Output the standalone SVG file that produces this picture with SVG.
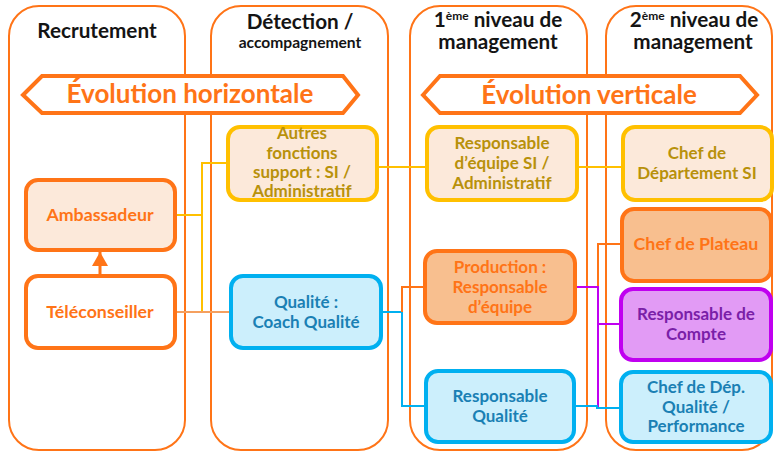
<svg xmlns="http://www.w3.org/2000/svg" width="774" height="452" viewBox="0 0 774 452">
  <style>
    .col { fill: none; stroke: #FF7417; stroke-width: 2; }
    .hdr { font-family: Lato, "Liberation Sans", sans-serif; font-weight: bold; fill: #141414; text-anchor: middle; }
    .banner { fill: #FFFFFF; stroke: #FF7417; stroke-width: 4; stroke-linejoin: miter; }
    .btxt { font-family: Lato, "Liberation Sans", sans-serif; font-weight: bold; font-size: 26px; fill: #FF7417; text-anchor: middle; }
    .box { stroke-width: 4; }
    .t { font-family: Lato, "Liberation Sans", sans-serif; font-weight: bold; font-size: 17.8px; text-anchor: middle; }
    .t2 { font-family: Lato, "Liberation Sans", sans-serif; font-weight: bold; font-size: 17px; text-anchor: middle; }
    .gold { fill: #FCE9DA; stroke: #FFC000; }
    .goldT { fill: #B8910B; }
    .peach { fill: #FCE9DA; stroke: #FF7417; }
    .white { fill: #FFFFFF; stroke: #FF7417; }
    .orange { fill: #F8BF8F; stroke: #FF7417; }
    .orangeT { fill: #FF7417; }
    .blue { fill: #CCEFFC; stroke: #00B0F0; }
    .blueT { fill: #1A80B4; }
    .violet { fill: #E29BF5; stroke: #C000F0; }
    .violetT { fill: #7A1FA8; }
    .ln { fill: none; stroke-width: 2; }
  </style>
  <defs>
    <marker id="arrowhead" markerWidth="16" markerHeight="16" refX="14" refY="8" orient="auto" markerUnits="userSpaceOnUse">
      <path d="M0,0 L14,8 L0,16 Z" fill="#FF7417"/>
    </marker>
  </defs>

  <!-- columns -->
  <g id="columns">
    <rect class="col" x="9" y="6" width="176" height="444" rx="30"/>
    <rect class="col" x="211" y="6" width="177" height="444" rx="30"/>
    <rect class="col" x="410" y="6" width="177" height="444" rx="30"/>
    <rect class="col" x="606" y="6" width="166" height="444" rx="30"/>
  </g>

  <!-- column headings -->
  <g id="headers">
    <text class="hdr" x="97" y="38" font-size="20.7">Recrutement</text>
    <text class="hdr" x="300" y="29" font-size="20.7">Détection /</text>
    <text class="hdr" x="300" y="48" font-size="15.6">accompagnement</text>
    <text class="hdr" x="498" y="27" font-size="20.7">1<tspan font-size="12" dy="-7">ème</tspan><tspan dy="7"> niveau de</tspan></text>
    <text class="hdr" x="498" y="49" font-size="20.7">management</text>
    <text class="hdr" x="694" y="27" font-size="20.7">2<tspan font-size="12" dy="-7">ème</tspan><tspan dy="7"> niveau de</tspan></text>
    <text class="hdr" x="693" y="49" font-size="20.7">management</text>
  </g>

  <!-- evolution banners -->
  <g id="banner-horizontal">
    <polygon class="banner" points="23,95 42,76 343,76 358,95 343,113 42,113"/>
    <text class="btxt" x="190" y="103">Évolution horizontale</text>
  </g>
  <g id="banner-vertical">
    <polygon class="banner" points="423,95 440,76 740,76 757,95 740,113 440,113"/>
    <text class="btxt" x="589" y="104">Évolution verticale</text>
  </g>

  <!-- connectors -->
  <g id="connectors">
    <!-- support functions path -->
    <polyline class="ln" stroke="#FFC000" points="175,215 202,215"/>
    <polyline class="ln" stroke="#FFC000" points="202,312 202,163 228,163"/>
    <polyline class="ln" stroke="#FFC000" points="377,167 427,167"/>
    <polyline class="ln" stroke="#FFC000" points="577,167 623,167"/>
    <!-- quality / production path -->
    <polyline class="ln" stroke="#F5A05F" points="175,312 231,312"/>
    <polyline class="ln" stroke="#00B0F0" points="381,312 402,312 402,406 426,406"/>
    <polyline class="ln" stroke="#FF7417" points="425,287 402,287 402,312"/>
    <polyline class="ln" stroke="#FF7417" points="621,244 598,244 598,287"/>
    <polyline class="ln" stroke="#C000F0" points="575,287 598,287 598,408"/>
    <polyline class="ln" stroke="#C000F0" points="598,324 621,324"/>
    <polyline class="ln" stroke="#00B0F0" points="574,406 597,406 597,408 621,408"/>
    <!-- promotion arrow -->
    <line x1="100" y1="276" x2="100" y2="252" stroke="#FF7417" stroke-width="3" marker-end="url(#arrowhead)"/>
  </g>

  <!-- nodes -->
  <g id="ambassadeur">
    <rect class="box peach" x="26" y="180" width="149" height="70" rx="12"/>
    <text class="t orangeT" x="100" y="221">Ambassadeur</text>
  </g>
  <g id="teleconseiller">
    <rect class="box white" x="26" y="276" width="149" height="72" rx="12"/>
    <text class="t orangeT" x="100" y="318">Téléconseiller</text>
  </g>
  <g id="autres-fonctions">
    <rect class="box gold" x="228" y="127" width="149" height="73" rx="12"/>
    <text class="t2 goldT" x="302" y="139">Autres</text>
    <text class="t2 goldT" x="302" y="159">fonctions</text>
    <text class="t2 goldT" x="302" y="178">support : SI /</text>
    <text class="t2 goldT" x="302" y="197">Administratif</text>
  </g>
  <g id="coach-qualite">
    <rect class="box blue" x="231" y="276" width="150" height="72" rx="12"/>
    <text class="t2 blueT" x="306" y="308">Qualité :</text>
    <text class="t2 blueT" x="306" y="328">Coach Qualité</text>
  </g>
  <g id="resp-equipe-si">
    <rect class="box gold" x="427" y="127" width="150" height="73" rx="12"/>
    <text class="t2 goldT" x="502" y="149">Responsable</text>
    <text class="t2 goldT" x="502" y="169">d’équipe SI /</text>
    <text class="t2 goldT" x="502" y="189">Administratif</text>
  </g>
  <g id="production">
    <rect class="box orange" x="425" y="251" width="150" height="72" rx="12"/>
    <text class="t2 orangeT" x="500" y="273">Production :</text>
    <text class="t2 orangeT" x="500" y="293">Responsable</text>
    <text class="t2 orangeT" x="500" y="313">d’équipe</text>
  </g>
  <g id="resp-qualite">
    <rect class="box blue" x="426" y="371" width="148" height="71" rx="12"/>
    <text class="t2 blueT" x="500" y="402">Responsable</text>
    <text class="t2 blueT" x="500" y="422">Qualité</text>
  </g>
  <g id="chef-departement-si">
    <rect class="box gold" x="623" y="127" width="149" height="73" rx="12"/>
    <text class="t2 goldT" x="697" y="159">Chef de</text>
    <text class="t2 goldT" x="697" y="179">Département SI</text>
  </g>
  <g id="chef-plateau">
    <rect class="box orange" x="622" y="209" width="149" height="72" rx="12"/>
    <text class="t orangeT" x="696" y="250">Chef de Plateau</text>
  </g>
  <g id="resp-compte">
    <rect class="box violet" x="621" y="289" width="150" height="71" rx="12"/>
    <text class="t2 violetT" x="696" y="320">Responsable de</text>
    <text class="t2 violetT" x="696" y="340">Compte</text>
  </g>
  <g id="chef-dep-qualite">
    <rect class="box blue" x="621" y="372" width="150" height="70" rx="12"/>
    <text class="t2 blueT" x="696" y="393">Chef de Dép.</text>
    <text class="t2 blueT" x="696" y="413">Qualité /</text>
    <text class="t2 blueT" x="696" y="432">Performance</text>
  </g>
</svg>
